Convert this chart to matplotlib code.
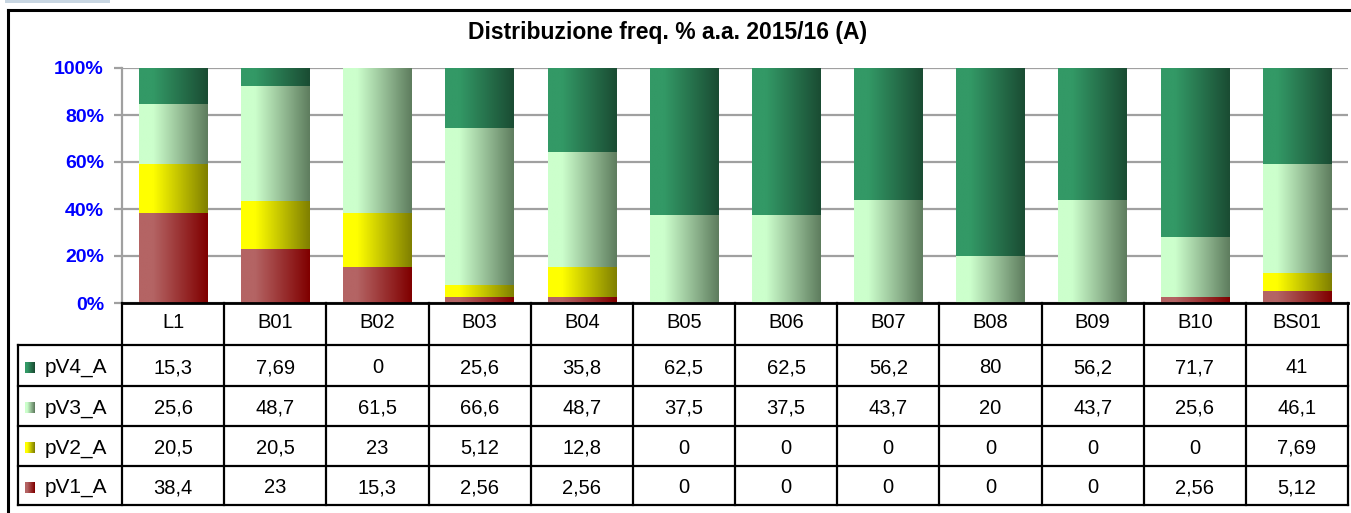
import numpy as np
import matplotlib
matplotlib.use("Agg")
import matplotlib.pyplot as plt
from matplotlib.patches import Rectangle

plt.rcParams['font.family'] = ['Liberation Sans', 'DejaVu Sans']

categories = ['L1', 'B01', 'B02', 'B03', 'B04', 'B05', 'B06', 'B07', 'B08', 'B09', 'B10', 'BS01']
series_names = ['pV4_A', 'pV3_A', 'pV2_A', 'pV1_A']
pv4 = [15.3, 7.69, 0, 25.6, 35.8, 62.5, 62.5, 56.2, 80, 56.2, 71.7, 41]
pv3 = [25.6, 48.7, 61.5, 66.6, 48.7, 37.5, 37.5, 43.7, 20, 43.7, 25.6, 46.1]
pv2 = [20.5, 20.5, 23, 5.12, 12.8, 0, 0, 0, 0, 0, 0, 7.69]
pv1 = [38.4, 23, 15.3, 2.56, 2.56, 0, 0, 0, 0, 0, 2.56, 5.12]
title = "Distribuzione freq. % a.a. 2015/16 (A)"

# gradient colours (left, right) per series
grad_colors = {
    'pV4_A': ((51, 153, 102), (26, 76, 51)),
    'pV3_A': ((204, 255, 204), (95, 125, 95)),
    'pV2_A': ((255, 255, 0), (128, 128, 0)),
    'pV1_A': ((180, 100, 100), (128, 0, 0)),
}


def gradient(name, n=64):
    c1, c2 = grad_colors[name]
    c1 = np.array(c1) / 255.0
    c2 = np.array(c2) / 255.0
    t = np.linspace(0, 1, n)
    f = np.clip((t - 0.2) / 0.8, 0, 1)
    img = c1[None, :] + (c2 - c1)[None, :] * f[:, None]
    return img[None, :, :]


W, H = 1351, 513
fig = plt.figure(figsize=(W / 100, H / 100), dpi=100)

# plot area in pixels
PL, PR = 122, 1348
PT, PB = 68, 303
ax = fig.add_axes([PL / W, 1 - PB / H, (PR - PL) / W, (PB - PT) / H])

values = {'pV4_A': pv4, 'pV3_A': pv3, 'pV2_A': pv2, 'pV1_A': pv1}
totals = np.sum([pv1, pv2, pv3, pv4], axis=0)
x = np.arange(len(categories))
bottom = np.zeros(len(categories))
for name in ['pV1_A', 'pV2_A', 'pV3_A', 'pV4_A']:
    pct = np.array(values[name]) / totals
    bars = ax.bar(x, pct, bottom=bottom, width=0.67, color='none', edgecolor='none')
    img = gradient(name)
    for p in bars:
        if p.get_height() <= 0:
            continue
        ax.imshow(img, extent=[p.get_x(), p.get_x() + p.get_width(),
                               p.get_y(), p.get_y() + p.get_height()],
                  aspect='auto', interpolation='bilinear', zorder=2)
    bottom += pct

ax.set_xlim(-0.5, len(categories) - 0.5)
ax.set_ylim(0, 1)
yt = np.arange(0, 1.01, 0.2)
ax.set_yticks(yt)
ax.set_yticklabels([f"{int(round(v * 100))}%" for v in yt], fontweight='bold',
                   fontsize=14, color='#0000FF')
ax.set_xticks([])
ax.yaxis.grid(True, color='#A0A0A0', lw=1.6)
ax.set_axisbelow(True)
ax.tick_params(axis='y', length=6, width=1.6, color='#A0A0A0', pad=7)
for s in ['top', 'right']:
    ax.spines[s].set_visible(False)
ax.spines['left'].set_color('#A0A0A0')
ax.spines['left'].set_linewidth(1.6)
ax.spines['bottom'].set_color('black')
ax.spines['bottom'].set_linewidth(2)

# overlay for table, frame, title
ov = fig.add_axes([0, 0, 1, 1])
ov.axis('off')

ov.plot([8, 8], [H + 5, 10], color='black', lw=2.2)
ov.plot([8, W + 5], [10, 10], color='black', lw=2.2)
ov.add_patch(Rectangle((5, 0), 105, 2.5, color='#C8D6E2', lw=0))

ov.text(668, 32, title, ha='center', va='center', fontsize=16.5, fontweight='bold')

# data table
LX = 18
rows_y = [303, 345, 386, 426, 466, 505]
ncol = len(categories)
col_w = (PR - PL) / ncol
col_edges = [PL + i * col_w for i in range(ncol + 1)]
for yy in rows_y[1:]:
    ov.plot([LX, PR], [yy, yy], color='black', lw=1.6)
ov.plot([LX, LX], [rows_y[1], rows_y[-1]], color='black', lw=1.6)
for xx in col_edges:
    ov.plot([xx, xx], [rows_y[0], rows_y[-1]], color='black', lw=1.6)

for i, cat in enumerate(categories):
    cx = (col_edges[i] + col_edges[i + 1]) / 2
    ov.text(cx, (rows_y[0] + rows_y[1]) / 2 - 1, cat, ha='center', va='center', fontsize=14.5)

for r, name in enumerate(series_names):
    yc = (rows_y[r + 1] + rows_y[r + 2]) / 2 + 2
    ov.imshow(gradient(name, 16), extent=[25, 35, yc + 5.5, yc - 5.5],
              aspect='auto', interpolation='bilinear')
    ov.text(45, yc, name, ha='left', va='center', fontsize=15)
    for i, v in enumerate(values[name]):
        cx = (col_edges[i] + col_edges[i + 1]) / 2
        ov.text(cx, yc, f"{v:.3g}".replace('.', ','), ha='center', va='center', fontsize=14.5)

ov.set_xlim(0, W)
ov.set_ylim(H, 0)

fig.savefig('out.png', dpi=100)
